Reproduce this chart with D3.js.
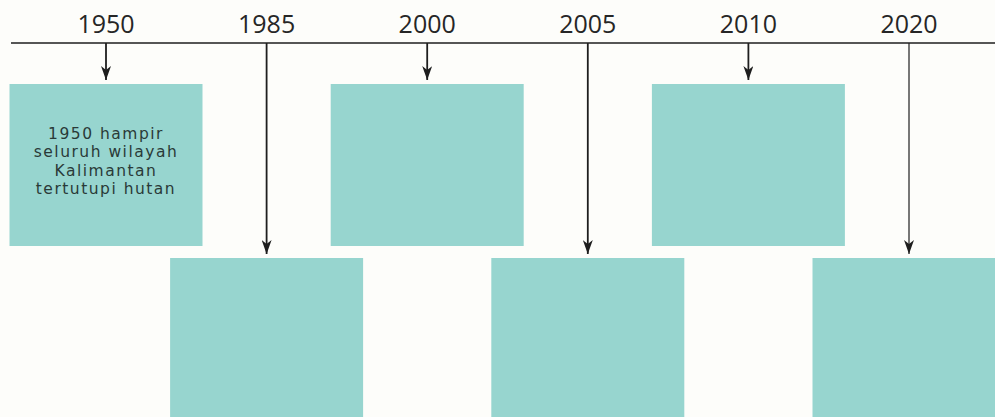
<!DOCTYPE html>
<html>
<head>
<meta charset="utf-8">
<script src="https://cdn.jsdelivr.net/npm/d3@7"></script>
<style>
  html, body { margin: 0; padding: 0; background: #fdfdfa; }
  svg { display: block; }
</style>
</head>
<body>
<svg id="chart" width="995" height="417"></svg>
<script>
// ---- data ----
const years = ["1950", "1985", "2000", "2005", "2010", "2020"];
const rows = [0, 1, 0, 1, 0, 1]; // 0 = upper row, 1 = lower row
const boxTexts = [
  ["1950 hampir", "seluruh wilayah", "Kalimantan", "tertutupi hutan"],
  [], [], [], [], []
];

// ---- layout ----
const W = 995, H = 417;
const svg = d3.select("#chart");
svg.append("rect").attr("width", W).attr("height", H).attr("fill", "#fdfdfa");

const x = d3.scalePoint().domain(years).range([106, 909]);
const lineY = 43;
const boxW = 193;
const rowTop = d3.scaleOrdinal().domain([0, 1]).range([84, 258]);
const rowBottom = d3.scaleOrdinal().domain([0, 1]).range([246, 425]);

const items = years.map((y, i) => ({ year: y, row: rows[i], text: boxTexts[i] }));

// arrowhead marker (points along +x, rotated to line direction)
svg.append("defs").append("marker")
  .attr("id", "arrow")
  .attr("viewBox", "0 0 14 10")
  .attr("refX", 14).attr("refY", 5)
  .attr("markerWidth", 14).attr("markerHeight", 10)
  .attr("markerUnits", "userSpaceOnUse")
  .attr("orient", "auto")
  .append("path")
  .attr("d", "M0,0 L4,5 L0,10 L14,5 Z")
  .attr("fill", "#1e1e1e");

// boxes
svg.selectAll("rect.box").data(items).enter().append("rect")
  .attr("class", "box")
  .attr("x", d => x(d.year) - boxW / 2)
  .attr("y", d => rowTop(d.row))
  .attr("width", boxW)
  .attr("height", d => rowBottom(d.row) - rowTop(d.row))
  .attr("fill", "#97d5cf");

// main horizontal line
svg.append("line")
  .attr("x1", 11).attr("x2", W)
  .attr("y1", lineY).attr("y2", lineY)
  .attr("stroke", "#1e1e1e").attr("stroke-width", 1.6);

// arrows
svg.selectAll("line.arrow").data(items).enter().append("line")
  .attr("class", "arrow")
  .attr("x1", d => x(d.year)).attr("x2", d => x(d.year))
  .attr("y1", lineY)
  .attr("y2", d => rowTop(d.row) - 4)
  .attr("stroke", "#1e1e1e")
  .attr("stroke-width", d => d.year === "2020" ? 1.2 : 1.8)
  .attr("marker-end", "url(#arrow)");

// year labels
svg.selectAll("text.year").data(items).enter().append("text")
  .attr("class", "year")
  .attr("x", d => x(d.year))
  .attr("y", 33)
  .attr("text-anchor", "middle")
  .attr("font-family", "'Open Sans', 'Liberation Sans', sans-serif")
  .attr("font-size", 25)
  .attr("fill", "#262626")
  .text(d => d.year);

// box texts
const tg = svg.selectAll("g.btext").data(items).enter().append("g").attr("class", "btext");
tg.selectAll("text").data(d => d.text.map((t, j) => ({ t, j, d }))).enter().append("text")
  .attr("x", e => x(e.d.year))
  .attr("y", e => rowTop(e.d.row) + 55 + e.j * 18.3)
  .attr("text-anchor", "middle")
  .attr("font-family", "'DejaVu Sans', sans-serif")
  .attr("font-size", 15.5)
  .attr("letter-spacing", 1.5)
  .attr("fill", "#2a3a38")
  .text(e => e.t);
</script>
</body>
</html>
